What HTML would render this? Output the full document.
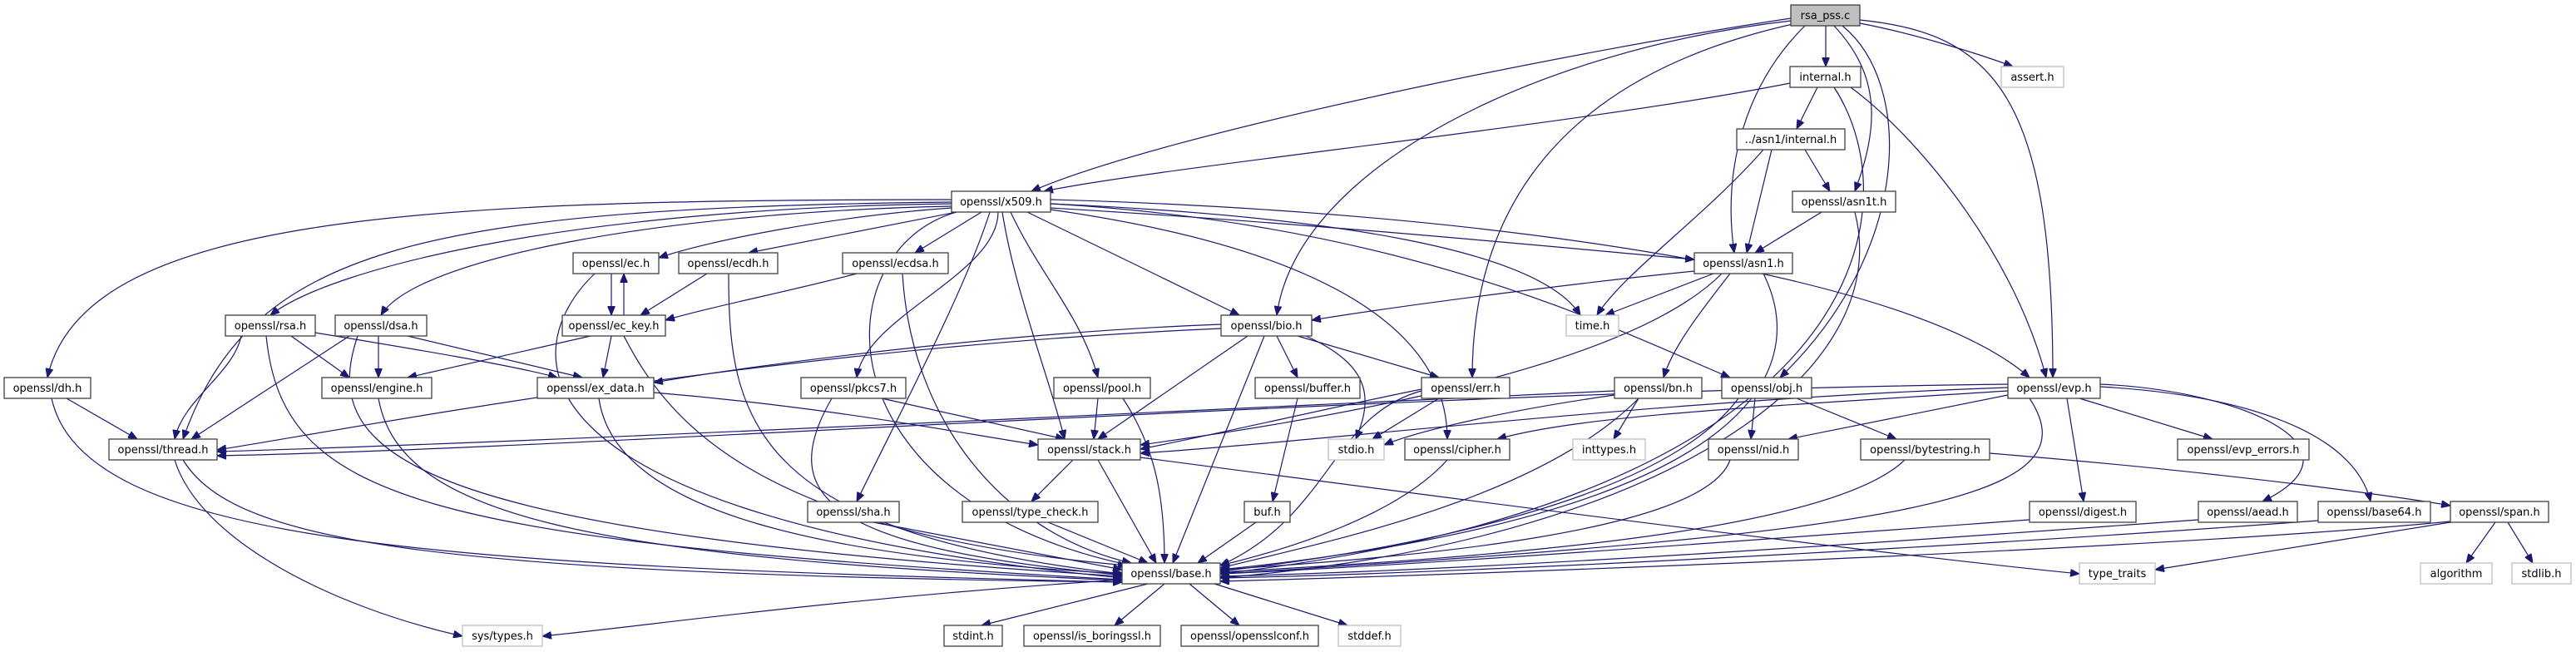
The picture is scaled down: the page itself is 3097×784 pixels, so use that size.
<!DOCTYPE html>
<html><head><meta charset="utf-8"><style>
html,body{margin:0;padding:0;background:#fff}
svg{display:block}
text{font-family:"DejaVu Sans","Liberation Sans",sans-serif;font-size:13px;fill:#000;text-anchor:middle}
.n{fill:#fff;stroke:#404040;stroke-width:1.3}
.g{fill:#fff;stroke:#bfbfbf;stroke-width:1.3}
.r{fill:#bfbfbf;stroke:#404040;stroke-width:1.3}
path.e{fill:none;stroke:#191970;stroke-width:1.2;marker-end:url(#a)}
</style></head><body>
<svg width="3097" height="784" viewBox="0 0 3097 784" xmlns="http://www.w3.org/2000/svg">
<defs><marker id="a" markerUnits="userSpaceOnUse" markerWidth="12" markerHeight="9" refX="11" refY="4.5" orient="auto"><path d="M0,0 L11,4.5 L0,9z" fill="#191970" stroke="#191970"/></marker></defs>
<g>
<path class="e" d="M2195,31 L2195,80"/>
<path class="e" d="M2236,28 C2300,40 2380,65 2420,80"/>
<path class="e" d="M2153,22 C1900,60 1400,160 1240,230"/>
<path class="e" d="M2153,25 C1850,60 1560,200 1535,379"/>
<path class="e" d="M2160,28 C1830,100 1770,300 1770,454"/>
<path class="e" d="M2170,31 C2100,100 2070,200 2085,304"/>
<path class="e" d="M2205,31 C2260,90 2260,150 2230,230"/>
<path class="e" d="M2215,31 C2300,100 2300,300 2140,454"/>
<path class="e" d="M2236,24 C2400,40 2468,120 2468,454"/>
<path class="e" d="M2225,105 C2300,160 2420,300 2460,454"/>
<path class="e" d="M2185,105 L2160,155"/>
<path class="e" d="M2152,100 C1900,150 1400,200 1255,230"/>
<path class="e" d="M2205,105 C2300,250 2250,600 1467,690"/>
<path class="e" d="M2170,180 L2200,230"/>
<path class="e" d="M2130,180 L2100,304"/>
<path class="e" d="M2120,180 C2050,260 1950,330 1920,379"/>
<path class="e" d="M2190,255 L2110,304"/>
<path class="e" d="M2230,255 C2280,450 2000,650 1467,695"/>
<path class="e" d="M2060,329 L1930,379"/>
<path class="e" d="M2037,326 C1900,340 1700,365 1577,385"/>
<path class="e" d="M2080,329 C2040,380 2010,420 2000,454"/>
<path class="e" d="M2120,329 C2180,450 2100,620 1467,685"/>
<path class="e" d="M2070,329 C1950,450 1550,510 1371,535"/>
<path class="e" d="M1144,240 C500,240 100,260 57,454"/>
<path class="e" d="M1144,245 C700,250 400,320 325,379"/>
<path class="e" d="M1144,248 C800,255 500,310 458,379"/>
<path class="e" d="M1144,250 C1000,260 850,290 792,310"/>
<path class="e" d="M1150,255 L900,304"/>
<path class="e" d="M1180,255 L1100,304"/>
<path class="e" d="M1144,243 C500,250 300,300 220,528"/>
<path class="e" d="M1150,255 C990,300 980,600 1360,680"/>
<path class="e" d="M1205,255 C1220,350 1260,450 1280,528"/>
<path class="e" d="M1190,255 C1160,350 1080,500 1030,603"/>
<path class="e" d="M1200,255 C1200,330 1040,380 1030,454"/>
<path class="e" d="M1215,255 C1250,330 1300,380 1320,454"/>
<path class="e" d="M1235,255 L1490,379"/>
<path class="e" d="M1263,245 C1600,260 1850,300 1900,379"/>
<path class="e" d="M1263,250 C1600,270 1900,300 2037,312"/>
<path class="e" d="M1263,240 C1800,255 2300,330 2440,454"/>
<path class="e" d="M1263,245 C1700,270 1950,400 2080,454"/>
<path class="e" d="M1263,252 C1600,300 1740,400 1740,528"/>
<path class="e" d="M735,329 L735,379"/>
<path class="e" d="M750,379 L750,329"/>
<path class="e" d="M715,329 C620,420 600,620 1349,695"/>
<path class="e" d="M850,329 L770,379"/>
<path class="e" d="M876,329 C876,500 900,640 1349,690"/>
<path class="e" d="M1030,329 C950,350 850,370 800,385"/>
<path class="e" d="M1085,329 C1095,500 1200,640 1360,677"/>
<path class="e" d="M290,404 C280,450 220,480 210,528"/>
<path class="e" d="M350,404 L420,454"/>
<path class="e" d="M379,400 C500,420 620,440 670,454"/>
<path class="e" d="M320,404 C340,600 500,650 1349,697"/>
<path class="e" d="M455,404 L455,454"/>
<path class="e" d="M490,404 L700,454"/>
<path class="e" d="M420,404 L230,528"/>
<path class="e" d="M430,404 C380,550 500,640 1349,693"/>
<path class="e" d="M710,404 L490,454"/>
<path class="e" d="M735,404 L725,454"/>
<path class="e" d="M750,404 C800,500 900,640 1355,680"/>
<path class="e" d="M80,479 L165,528"/>
<path class="e" d="M62,479 C100,650 500,680 1349,700"/>
<path class="e" d="M455,479 C480,620 700,670 1349,698"/>
<path class="e" d="M786,472 C1000,490 1150,520 1248,535"/>
<path class="e" d="M720,479 C740,620 1000,670 1349,690"/>
<path class="e" d="M1468,390 C1200,400 900,440 786,460"/>
<path class="e" d="M1468,395 C900,420 400,520 261,541"/>
<path class="e" d="M1500,404 L1320,528"/>
<path class="e" d="M1535,404 L1560,454"/>
<path class="e" d="M1560,404 L1730,454"/>
<path class="e" d="M1570,404 C1650,440 1650,480 1630,528"/>
<path class="e" d="M1520,404 L1410,677"/>
<path class="e" d="M1060,479 L1280,528"/>
<path class="e" d="M1000,479 C930,600 1000,660 1355,692"/>
<path class="e" d="M1320,479 L1315,528"/>
<path class="e" d="M1350,479 C1390,540 1400,600 1400,677"/>
<path class="e" d="M1560,479 L1530,603"/>
<path class="e" d="M1510,628 L1440,677"/>
<path class="e" d="M1730,479 L1650,528"/>
<path class="e" d="M1709,470 C1600,500 1600,620 1467,680"/>
<path class="e" d="M1709,468 C1600,490 1450,525 1371,540"/>
<path class="e" d="M1941,470 C1500,490 700,530 261,543"/>
<path class="e" d="M1970,479 L1940,528"/>
<path class="e" d="M1941,475 C1800,495 1700,520 1664,535"/>
<path class="e" d="M1970,479 C1850,600 1600,650 1467,683"/>
<path class="e" d="M2110,479 L2105,528"/>
<path class="e" d="M2160,479 L2280,528"/>
<path class="e" d="M2090,479 C2000,600 1700,660 1467,687"/>
<path class="e" d="M2414,462 C1700,470 700,540 261,548"/>
<path class="e" d="M2414,470 C2100,490 1900,500 1800,528"/>
<path class="e" d="M2414,475 L2150,528"/>
<path class="e" d="M2485,479 L2505,603"/>
<path class="e" d="M2500,479 L2660,528"/>
<path class="e" d="M2525,462 C2700,470 2850,540 2720,603"/>
<path class="e" d="M2525,465 C2700,475 2830,520 2850,603"/>
<path class="e" d="M2440,479 C2520,600 2300,640 1467,690"/>
<path class="e" d="M2414,466 C2000,480 1600,530 1371,545"/>
<path class="e" d="M210,553 C240,650 400,730 556,765"/>
<path class="e" d="M220,553 C280,650 500,690 1349,700"/>
<path class="e" d="M1290,553 L1240,603"/>
<path class="e" d="M1320,553 L1390,677"/>
<path class="e" d="M1371,550 C1900,620 2300,670 2500,690"/>
<path class="e" d="M1260,628 L1380,677"/>
<path class="e" d="M1050,628 L1349,685"/>
<path class="e" d="M1740,553 C1680,620 1550,660 1467,680"/>
<path class="e" d="M2080,553 C2050,640 1700,670 1467,685"/>
<path class="e" d="M2392,545 C2700,570 2900,600 2946,608"/>
<path class="e" d="M2290,553 C2200,640 1800,670 1467,688"/>
<path class="e" d="M2440,625 C2100,650 1700,680 1467,690"/>
<path class="e" d="M2643,625 C2300,650 1800,685 1467,693"/>
<path class="e" d="M2787,626 C2400,655 1800,688 1467,695"/>
<path class="e" d="M3000,628 L2965,677"/>
<path class="e" d="M3015,628 L3045,677"/>
<path class="e" d="M2946,628 L2591,685"/>
<path class="e" d="M2946,627 C2600,660 1800,690 1467,699"/>
<path class="e" d="M1349,697 C1000,720 800,750 652,765"/>
<path class="e" d="M1380,702 L1180,752"/>
<path class="e" d="M1400,702 L1340,752"/>
<path class="e" d="M1430,702 L1490,752"/>
<path class="e" d="M1460,702 L1620,752"/>
</g>
<g>
<rect class="r" x="2153" y="6" width="83" height="25"/><text x="2194.5" y="23">rsa_pss.c</text>
<rect class="n" x="2152" y="80" width="85" height="25"/><text x="2194.5" y="97">internal.h</text>
<rect class="g" x="2406" y="80" width="75" height="25"/><text x="2443.5" y="97">assert.h</text>
<rect class="n" x="2088" y="155" width="130" height="25"/><text x="2153" y="172">../asn1/internal.h</text>
<rect class="n" x="1144" y="230" width="119" height="25"/><text x="1203.5" y="247">openssl/x509.h</text>
<rect class="n" x="2155" y="230" width="124" height="25"/><text x="2217" y="247">openssl/asn1t.h</text>
<rect class="n" x="689" y="304" width="103" height="25"/><text x="740.5" y="321">openssl/ec.h</text>
<rect class="n" x="816" y="304" width="119" height="25"/><text x="875.5" y="321">openssl/ecdh.h</text>
<rect class="n" x="1013" y="304" width="127" height="25"/><text x="1076.5" y="321">openssl/ecdsa.h</text>
<rect class="n" x="2037" y="304" width="118" height="25"/><text x="2096" y="321">openssl/asn1.h</text>
<rect class="n" x="271" y="379" width="108" height="25"/><text x="325" y="396">openssl/rsa.h</text>
<rect class="n" x="403" y="379" width="110" height="25"/><text x="458" y="396">openssl/dsa.h</text>
<rect class="n" x="676" y="379" width="124" height="25"/><text x="738" y="396">openssl/ec_key.h</text>
<rect class="n" x="1468" y="379" width="109" height="25"/><text x="1522.5" y="396">openssl/bio.h</text>
<rect class="g" x="1883" y="379" width="63" height="25"/><text x="1914.5" y="396">time.h</text>
<rect class="n" x="5" y="454" width="104" height="25"/><text x="57" y="471">openssl/dh.h</text>
<rect class="n" x="387" y="454" width="132" height="25"/><text x="453" y="471">openssl/engine.h</text>
<rect class="n" x="646" y="454" width="140" height="25"/><text x="716" y="471">openssl/ex_data.h</text>
<rect class="n" x="963" y="454" width="126" height="25"/><text x="1026" y="471">openssl/pkcs7.h</text>
<rect class="n" x="1267" y="454" width="116" height="25"/><text x="1325" y="471">openssl/pool.h</text>
<rect class="n" x="1509" y="454" width="126" height="25"/><text x="1572" y="471">openssl/buffer.h</text>
<rect class="n" x="1709" y="454" width="106" height="25"/><text x="1762" y="471">openssl/err.h</text>
<rect class="n" x="1941" y="454" width="105" height="25"/><text x="1993.5" y="471">openssl/bn.h</text>
<rect class="n" x="2070" y="454" width="108" height="25"/><text x="2124" y="471">openssl/obj.h</text>
<rect class="n" x="2414" y="454" width="111" height="25"/><text x="2469.5" y="471">openssl/evp.h</text>
<rect class="n" x="131" y="528" width="130" height="25"/><text x="196" y="545">openssl/thread.h</text>
<rect class="n" x="1248" y="528" width="123" height="25"/><text x="1309.5" y="545">openssl/stack.h</text>
<rect class="g" x="1597" y="528" width="67" height="25"/><text x="1630.5" y="545">stdio.h</text>
<rect class="n" x="1689" y="528" width="126" height="25"/><text x="1752" y="545">openssl/cipher.h</text>
<rect class="g" x="1891" y="528" width="87" height="25"/><text x="1934.5" y="545">inttypes.h</text>
<rect class="n" x="2054" y="528" width="108" height="25"/><text x="2108" y="545">openssl/nid.h</text>
<rect class="n" x="2237" y="528" width="155" height="25"/><text x="2314.5" y="545">openssl/bytestring.h</text>
<rect class="n" x="2618" y="528" width="158" height="25"/><text x="2697" y="545">openssl/evp_errors.h</text>
<rect class="n" x="971" y="603" width="110" height="25"/><text x="1026" y="620">openssl/sha.h</text>
<rect class="n" x="1157" y="603" width="163" height="25"/><text x="1238.5" y="620">openssl/type_check.h</text>
<rect class="n" x="1496" y="603" width="55" height="25"/><text x="1523.5" y="620">buf.h</text>
<rect class="n" x="2440" y="603" width="128" height="25"/><text x="2504" y="620">openssl/digest.h</text>
<rect class="n" x="2643" y="603" width="119" height="25"/><text x="2702.5" y="620">openssl/aead.h</text>
<rect class="n" x="2787" y="603" width="135" height="25"/><text x="2854.5" y="620">openssl/base64.h</text>
<rect class="n" x="2946" y="603" width="118" height="25"/><text x="3005" y="620">openssl/span.h</text>
<rect class="n" x="1349" y="677" width="118" height="25"/><text x="1408" y="694">openssl/base.h</text>
<rect class="g" x="2500" y="677" width="91" height="25"/><text x="2545.5" y="694">type_traits</text>
<rect class="g" x="2910" y="677" width="86" height="25"/><text x="2953" y="694">algorithm</text>
<rect class="g" x="3020" y="677" width="71" height="25"/><text x="3055.5" y="694">stdlib.h</text>
<rect class="g" x="556" y="752" width="96" height="25"/><text x="604" y="769">sys/types.h</text>
<rect class="n" x="1135" y="752" width="70" height="25"/><text x="1170" y="769">stdint.h</text>
<rect class="n" x="1231" y="752" width="164" height="25"/><text x="1313" y="769">openssl/is_boringssl.h</text>
<rect class="n" x="1420" y="752" width="165" height="25"/><text x="1502.5" y="769">openssl/opensslconf.h</text>
<rect class="g" x="1609" y="752" width="75" height="25"/><text x="1646.5" y="769">stddef.h</text>
</g>
</svg>
</body></html>
